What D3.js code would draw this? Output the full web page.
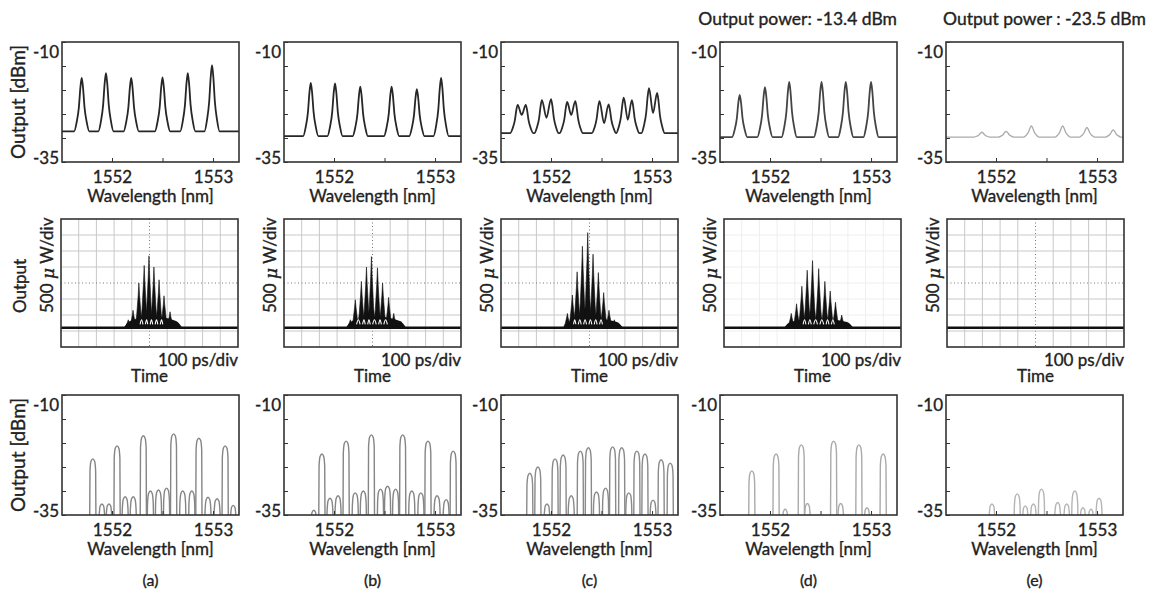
<!DOCTYPE html>
<html>
<head>
<meta charset="utf-8">
<script src="https://cdn.jsdelivr.net/npm/d3@7/dist/d3.min.js"></script>
<style>
  body { margin: 0; background: #fff; }
  svg text { font-family: Lato, 'Open Sans', sans-serif; fill: #222; stroke: #222; stroke-width: 0.35px; }
</style>
</head>
<body>
<div id="canvas"></div>
<script>
/*
 * Values
 *
 */
const panelLabels = ['(a)', '(b)', '(c)', '(d)', '(e)'];
const powerTitles = ['', '', '', 'Output power: -13.4 dBm', 'Output power : -23.5 dBm'];
const wavelengthTicks = [1552, 1552.5, 1553];
const wavelengthLabels = [1552, 1553];
const dbmTicks = [-10, -15, -20, -25, -30, -35];
const dbmLabels = [-10, -35];

// top row: floor level [dBm] and comb lines, one group per line (doublets carry their dip)
const inputFloor = [-28.6, -29.6, -29.0, -29.8, -29.8];
const inputPeaks = [
  [[[1551.70, -17.5]], [[1551.94, -16.5]], [[1552.19, -17.5]], [[1552.50, -17.4]], [[1552.75, -16.5]], [[1552.99, -14.8]]],
  [[[1551.77, -18.5]], [[1552.01, -18.6]], [[1552.26, -19.3]], [[1552.57, -19.3]], [[1552.82, -19.8]], [[1553.06, -17.5]]],
  [
    [[1551.67, -23.1], [1551.71, -25.2], [1551.75, -23.1]],
    [[1551.91, -22.1], [1551.955, -25.8], [1552.00, -21.9]],
    [[1552.16, -22.5], [1552.20, -25.2], [1552.24, -22.3]],
    [[1552.48, -22.3], [1552.525, -26.9], [1552.57, -23.0]],
    [[1552.72, -21.6], [1552.76, -26.2], [1552.80, -22.1]],
    [[1552.97, -19.6], [1553.01, -24.8], [1553.05, -20.6]]
  ],
  [[[1551.70, -21.0]], [[1551.95, -19.4]], [[1552.19, -18.3]], [[1552.51, -18.3]], [[1552.75, -18.3]], [[1553.00, -18.3]]],
  [[[1551.86, -28.8]], [[1552.10, -28.6]], [[1552.35, -27.5]], [[1552.66, -27.5]], [[1552.90, -27.8]], [[1553.16, -28.3]]]
];

// middle row: trace baseline [div], pulse foot [start, end, height] and spikes [time div, height div]
const pulseBaseline = [1.2, 1.2, 1.2, 1.2, 1.2];
const pulseFoot = [[3.55, 6.85, 0.7], [3.5, 6.9, 0.7], [3.5, 6.9, 0.6], [3.4, 7.3, 0.6], null];
const pulseSpikes = [
  [[3.8, 0.5], [4.07, 1.1], [4.4, 2.8], [4.7, 3.9], [4.97, 4.5], [5.25, 3.8], [5.54, 3.0], [5.82, 2.0], [6.16, 1.0], [6.55, 0.35]],
  [[3.75, 0.5], [4.03, 1.75], [4.37, 2.9], [4.66, 3.8], [4.94, 4.45], [5.28, 3.75], [5.57, 2.8], [5.91, 1.9], [6.2, 0.9], [6.6, 0.4]],
  [[3.75, 0.9], [4.03, 2.05], [4.3, 3.5], [4.6, 5.1], [4.9, 5.95], [5.2, 4.6], [5.5, 3.45], [5.8, 2.2], [6.1, 1.1], [6.4, 0.5], [6.65, 0.2]],
  [[3.8, 0.9], [4.1, 1.5], [4.4, 2.6], [4.7, 3.6], [5.0, 4.2], [5.35, 3.7], [5.7, 2.9], [6.0, 2.3], [6.3, 1.6], [6.65, 0.8], [7.0, 0.3]],
  []
];

// bottom row: output lines [wavelength nm, level dBm]
const outputPeaks = [
  [[1551.81, -23.3], [1551.90, -32.7], [1551.97, -32.7], [1552.05, -20.6], [1552.13, -31.2], [1552.21, -31.2],
   [1552.31, -18.5], [1552.38, -30.0], [1552.46, -29.8], [1552.54, -29.4], [1552.61, -18.1], [1552.70, -30.0],
   [1552.79, -30.0], [1552.86, -19.0], [1552.95, -31.3], [1553.04, -31.6], [1553.12, -20.6], [1553.20, -33.0]],
  [[1551.80, -34.0], [1551.88, -22.3], [1551.96, -31.5], [1552.04, -31.0], [1552.12, -19.6], [1552.21, -30.4],
   [1552.29, -30.0], [1552.37, -18.3], [1552.46, -29.6], [1552.53, -29.0], [1552.61, -29.6], [1552.68, -18.3],
   [1552.77, -30.0], [1552.86, -30.4], [1552.93, -19.6], [1553.02, -31.0], [1553.11, -31.8], [1553.18, -21.7]],
  [[1551.79, -26.3], [1551.87, -25.0], [1551.96, -32.7], [1552.04, -23.3], [1552.12, -22.5], [1552.20, -31.0],
   [1552.29, -21.7], [1552.37, -21.0], [1552.45, -30.2], [1552.54, -29.4], [1552.61, -20.8], [1552.70, -21.0],
   [1552.77, -30.4], [1552.85, -21.7], [1552.93, -22.3], [1553.01, -31.9], [1553.09, -23.5], [1553.18, -24.2]],
  [[1551.82, -25.8], [1552.06, -22.3], [1552.15, -33.8], [1552.31, -20.4], [1552.37, -32.6], [1552.63, -19.6],
   [1552.70, -32.6], [1552.88, -20.4], [1552.96, -33.5], [1553.12, -22.3]],
  [[1551.96, -32.7], [1552.21, -30.6], [1552.29, -33.1], [1552.37, -32.7], [1552.45, -29.6], [1552.61, -32.4],
   [1552.70, -32.7], [1552.78, -30.0], [1552.86, -33.5], [1552.94, -33.8], [1553.02, -31.5]]
];

/*
 * Layout
 *
 */
const colX = [62, 284, 501, 720, 946];
const midX = [61, 284, 501, 724, 947];
const boxW = 177;
const rows = { top: { y: 42, h: 120 }, mid: { y: 219, h: 128 }, bot: { y: 395, h: 120 } };
const inputColor = ['#262626', '#262626', '#2a2a2a', '#444', '#aaa'];
const outputColor = ['#858585', '#858585', '#8a8a8a', '#aaa', '#b5b5b5'];
const gridColor = ['#c8c8c8', '#c8c8c8', '#c8c8c8', '#eeeeee', '#c8c8c8'];

const svg = d3.select('#canvas').append('svg')
  .attr('width', 1155)
  .attr('height', 595);

const xWave = d3.scaleLinear().domain([1551.505, 1553.257]).range([0, boxW]);
const yDbm = d3.scaleLinear().domain([-35, -10]).range([120, 0]);
const xTime = d3.scaleLinear().domain([0, 10]).range([0, boxW]);
const yDiv = d3.scaleLinear().domain([0, 8]).range([rows.mid.h, 0]);

const waveLine = d3.line()
  .x(d => xWave(d[0]))
  .y(d => yDbm(d[1]))
  .curve(d3.curveMonotoneX);

function addClip(g, id, h) {
  g.append('clipPath').attr('id', id)
    .append('rect').attr('width', boxW).attr('height', h);
}

function box(g, h) {
  g.append('rect')
    .attr('width', boxW)
    .attr('height', h)
    .attr('fill', 'none')
    .attr('stroke', '#333')
    .attr('stroke-width', 1.6);
}

// axes + labels shared by the two spectrum rows
function spectrumFrame(g, i, h) {
  const xAxis = g.append('g')
    .attr('transform', `translate(0,${h})`)
    .attr('color', '#333')
    .call(d3.axisBottom(xWave)
      .tickValues(wavelengthTicks)
      .tickSizeInner(-4)
      .tickSizeOuter(0)
      .tickPadding(9)
      .tickFormat(d => wavelengthLabels.includes(d) ? d : ''));
  xAxis.select('.domain').remove();
  xAxis.attr('font-family', null).attr('font-size', null);
  xAxis.selectAll('text').style('font-size', '17px');

  const yAxis = g.append('g')
    .attr('color', '#333')
    .call(d3.axisLeft(yDbm)
      .tickValues(dbmTicks)
      .tickSizeInner(-4)
      .tickSizeOuter(0)
      .tickPadding(3)
      .tickFormat(d => dbmLabels.includes(d) ? d : ''));
  yAxis.select('.domain').remove();
  yAxis.attr('font-family', null).attr('font-size', null);
  yAxis.selectAll('text')
    .style('font-size', '17px')
    .attr('transform', d => `translate(0,${d === -10 ? 10 : -4})`);

  g.append('text')
    .attr('x', boxW / 2)
    .attr('y', h + 36)
    .attr('text-anchor', 'middle')
    .attr('dominant-baseline', 'middle')
    .style('font-size', '17px')
    .text('Wavelength [nm]');

  if (i === 0) {
    g.append('text')
      .attr('transform', `translate(${20 - colX[0]},${h / 2}) rotate(-90)`)
      .attr('text-anchor', 'middle')
      .attr('dominant-baseline', 'middle')
      .style('font-size', '19px')
      .text('Output [dBm]');
  }
}

// one comb line (or doublet) of the input spectra as a path segment
function lineShape(group, floor) {
  const [l0, p0] = group[0];
  const [l1, p1] = group[group.length - 1];
  const lift = (p, f) => floor + (p - floor) * f;
  return [
    [l0 - 0.075, floor], [l0 - 0.05, lift(p0, 0.17)], [l0 - 0.028, lift(p0, 0.45)], [l0 - 0.013, lift(p0, 0.82)],
    ...group,
    [l1 + 0.013, lift(p1, 0.82)], [l1 + 0.028, lift(p1, 0.45)], [l1 + 0.05, lift(p1, 0.17)], [l1 + 0.075, floor]
  ];
}

function archShape([l, p]) {
  return [[l - 0.031, -36], [l - 0.028, p - 2.5], [l - 0.018, p - 0.5], [l, p],
          [l + 0.018, p - 0.5], [l + 0.028, p - 2.5], [l + 0.031, -36]];
}

function spikeShape([t, v]) {
  return [[t - 0.22, 0], [t - 0.12, v * 0.3], [t - 0.04, v * 0.72], [t, v],
          [t + 0.04, v * 0.72], [t + 0.12, v * 0.3], [t + 0.22, 0]];
}

panelLabels.forEach((label, i) => {
  /*
   * Top row: input spectrum
   *
   */
  const top = svg.append('g').attr('transform', `translate(${colX[i]},${rows.top.y})`);
  addClip(top, `clipTop${i}`, rows.top.h);
  const floor = inputFloor[i];
  const pts = [[xWave.domain()[0], floor]];
  inputPeaks[i].forEach(grp => pts.push(...lineShape(grp, floor)));
  pts.push([xWave.domain()[1], floor]);
  top.append('path')
    .attr('clip-path', `url(#clipTop${i})`)
    .attr('d', waveLine(pts))
    .attr('fill', 'none')
    .attr('stroke', inputColor[i])
    .attr('stroke-width', i === 4 ? 1.3 : 1.8);
  box(top, rows.top.h);
  spectrumFrame(top, i, rows.top.h);

  if (powerTitles[i]) {
    top.append('text')
      .attr('x', i === 3 ? boxW : -3)
      .attr('y', 21 - rows.top.y)
      .attr('text-anchor', i === 3 ? 'end' : 'start')
      .attr('dominant-baseline', 'middle')
      .style('font-size', '17.5px')
      .text(powerTitles[i]);
  }

  /*
   * Middle row: oscilloscope trace
   *
   */
  const mid = svg.append('g').attr('transform', `translate(${midX[i]},${rows.mid.y})`);
  addClip(mid, `clipMid${i}`, rows.mid.h);
  const grid = mid.append('g');
  grid.selectAll('line.v')
    .data(d3.range(1, 10))
    .join('line')
    .attr('x1', d => xTime(d)).attr('x2', d => xTime(d))
    .attr('y1', 0).attr('y2', rows.mid.h)
    .attr('stroke', d => d === 5 ? '#777' : gridColor[i])
    .attr('stroke-dasharray', d => d === 5 ? '1,2.5' : null)
    .attr('stroke-width', 1);
  grid.selectAll('line.h')
    .data(d3.range(1, 8))
    .join('line')
    .attr('y1', d => yDiv(d)).attr('y2', d => yDiv(d))
    .attr('x1', 0).attr('x2', boxW)
    .attr('stroke', d => d === 4 ? '#777' : gridColor[i])
    .attr('stroke-dasharray', d => d === 4 ? '1,2.5' : null)
    .attr('stroke-width', 1);
  if (i === 3) grid.selectAll('line').attr('stroke', gridColor[i]).attr('stroke-dasharray', null);

  const base = pulseBaseline[i];
  const pulseArea = d3.area()
    .x(d => xTime(d[0]))
    .y0(yDiv(base))
    .y1(d => yDiv(base + d[1]));
  const trace = mid.append('g').attr('clip-path', `url(#clipMid${i})`);
  if (pulseFoot[i]) {
    const [ts, te, fh] = pulseFoot[i];
    trace.append('path')
      .attr('d', pulseArea.curve(d3.curveMonotoneX)([[ts, 0], [ts + 0.35, fh * 0.6], [(ts + te) / 2, fh], [te - 0.35, fh * 0.6], [te, 0]]))
      .attr('fill', '#111');
  }
  const spikes = pulseSpikes[i];
  trace.selectAll('path.spike')
    .data(spikes)
    .join('path')
    .attr('class', 'spike')
    .attr('d', d => pulseArea.curve(d3.curveLinear)(spikeShape(d)))
    .attr('fill', '#111')
    .attr('stroke', '#111')
    .attr('stroke-width', 0.6);
  // light gaps left between neighbouring pulses near the bottom of the envelope
  const gapLine = d3.line()
    .x(d => xTime(d[0]))
    .y(d => yDiv(base + d[1]))
    .curve(d3.curveNatural);
  trace.selectAll('path.gap')
    .data(d3.pairs(spikes).filter(([a, b]) => a[1] > 1.5 && b[1] > 1.5))
    .join('path')
    .attr('class', 'gap')
    .attr('d', ([a, b]) => gapLine([[a[0] + 0.07, 0.22], [(a[0] + b[0]) / 2, 0.5], [b[0] - 0.07, 0.22]]))
    .attr('fill', 'none')
    .attr('stroke', '#fff')
    .attr('stroke-width', 1.1);
  trace.append('line')
    .attr('x1', 0).attr('x2', boxW)
    .attr('y1', yDiv(base)).attr('y2', yDiv(base))
    .attr('stroke', '#111')
    .attr('stroke-width', 2.6);
  box(mid, rows.mid.h);

  mid.append('text')
    .attr('x', boxW)
    .attr('y', rows.mid.h + 15)
    .attr('text-anchor', 'end')
    .attr('dominant-baseline', 'middle')
    .style('font-size', '17px')
    .text('100 ps/div');
  mid.append('text')
    .attr('x', boxW / 2)
    .attr('y', rows.mid.h + 31)
    .attr('text-anchor', 'middle')
    .attr('dominant-baseline', 'middle')
    .style('font-size', '17px')
    .text('Time');

  const unit = mid.append('text')
    .attr('transform', `translate(-12,94) rotate(-90)`)
    .attr('text-anchor', 'start')
    .attr('dominant-baseline', 'middle')
    .style('font-size', '17px');
  unit.append('tspan').text('500 ');
  unit.append('tspan').style('font-style', 'italic').style('font-family', 'DejaVu Serif').text('μ');
  unit.append('tspan').text(' W/div');
  if (i === 0) {
    mid.append('text')
      .attr('transform', `translate(-39,94) rotate(-90)`)
      .attr('text-anchor', 'start')
      .attr('dominant-baseline', 'middle')
      .style('font-size', '17px')
      .text('Output');
  }

  /*
   * Bottom row: output spectrum
   *
   */
  const bot = svg.append('g').attr('transform', `translate(${colX[i]},${rows.bot.y})`);
  addClip(bot, `clipBot${i}`, rows.bot.h);
  bot.append('g')
    .attr('clip-path', `url(#clipBot${i})`)
    .selectAll('path')
    .data(outputPeaks[i])
    .join('path')
    .attr('d', d => waveLine(archShape(d)))
    .attr('fill', 'none')
    .attr('stroke', outputColor[i])
    .attr('stroke-width', 1.4);
  box(bot, rows.bot.h);
  spectrumFrame(bot, i, rows.bot.h);

  bot.append('text')
    .attr('x', boxW / 2)
    .attr('y', 582 - rows.bot.y)
    .attr('text-anchor', 'middle')
    .attr('dominant-baseline', 'middle')
    .style('font-size', '16px')
    .text(label);
});
</script>
</body>
</html>
